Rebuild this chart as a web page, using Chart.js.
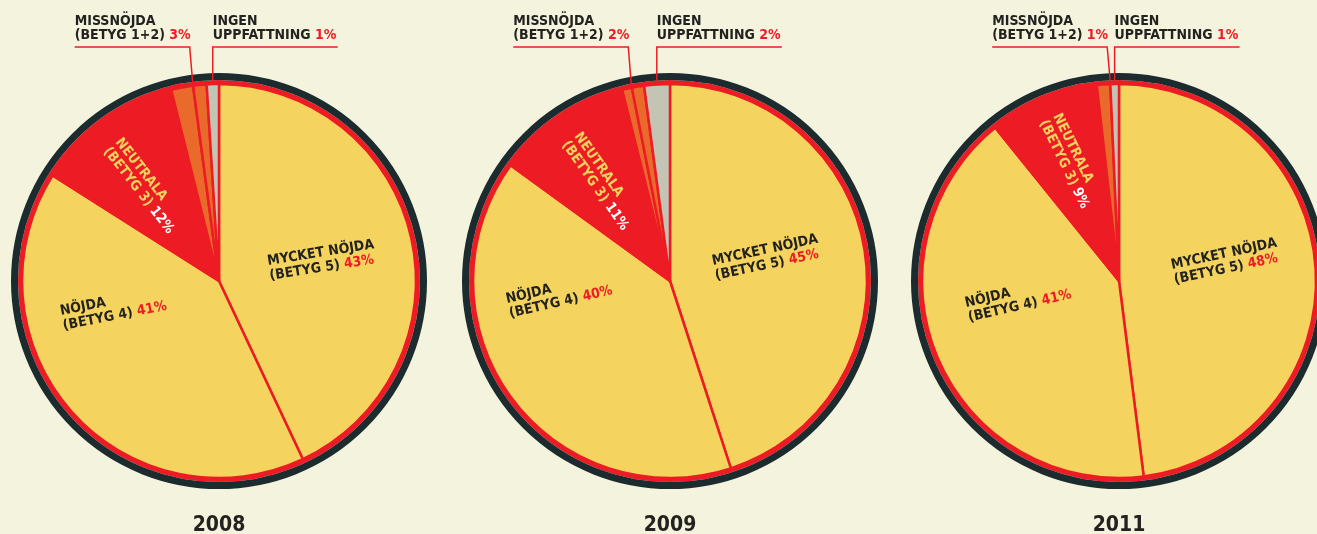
<!DOCTYPE html>
<html>
<head>
<meta charset="utf-8">
<script src="https://cdn.jsdelivr.net/npm/chart.js@4.4.0/dist/chart.umd.min.js"></script>
<style>
  html, body { margin: 0; padding: 0; background: #f4f3de; width: 1317px; height: 534px; overflow: hidden; }
  canvas { position: absolute; top: 0; }
</style>
</head>
<body>
<canvas id="pie2008" width="460" height="534" style="left:-11px"></canvas>
<canvas id="pie2009" width="460" height="534" style="left:440px"></canvas>
<canvas id="pie2011" width="460" height="534" style="left:889px"></canvas>
<script>
// slice shares (clockwise from 12 o'clock)
const years = ['2008', '2009', '2011'];
const values2008 = [43, 41, 12.1, 1.8, 1.1, 1.0];
const values2009 = [45, 40, 11.1, 0.8, 1.0, 2.1];
const values2011 = [48, 41.2, 9.0, 1.1, 0.7];
// rounded figures printed in the labels
const shown2008 = [43, 41, 12, 3, 1];
const shown2009 = [45, 40, 11, 2, 2];
const shown2011 = [48, 41, 9, 1, 1];
const labelTop = ['MYCKET NÖJDA', 'NÖJDA', 'NEUTRALA', 'MISSNÖJDA', 'INGEN'];
const labelBottom = ['(BETYG 5)', '(BETYG 4)', '(BETYG 3)', '(BETYG 1+2)', 'UPPFATTNING'];

const YELLOW = '#f4d35f';
const RED = '#ed1c24';
const ORANGE = '#ea6a2b';
const GRAY = '#c3c4b4';
const DARK = '#1b2b2e';
const INK = '#23221f';
const FONT = "'DejaVu Sans Condensed', 'DejaVu Sans', sans-serif";

const colors2008 = [YELLOW, YELLOW, RED, ORANGE, ORANGE, GRAY];
const colors2009 = [YELLOW, YELLOW, RED, ORANGE, ORANGE, GRAY];
const colors2011 = [YELLOW, YELLOW, RED, ORANGE, GRAY];

// where the labels inside each pie sit: offset from centre (px) and rotation (deg)
const place2008 = { mycket: [49, -16, -9], nojda: [-158, 34, -11], neutral: [-104, -139, 52] };
const place2009 = { mycket: [43, -16, -12], nojda: [-163, 22, -13], neutral: [-96, -145, 55] };
const place2011 = { mycket: [53, -12, -12], nojda: [-153, 26, -13], neutral: [-66, -165, 64] };

// write "(BETYG x) NN%" with the percentage in another colour
function twoTone(ctx, text, pct, x, y, ink, pctColor) {
  ctx.fillStyle = ink;
  ctx.fillText(text + ' ', x, y);
  const w = ctx.measureText(text + ' ').width;
  ctx.fillStyle = pctColor;
  ctx.fillText(pct + '%', x + w, y);
}

function innerLabel(ctx, cx, cy, p, idx, shown, ink, ink2, pctColor) {
  ctx.save();
  ctx.translate(cx + p[0], cy + p[1]);
  ctx.rotate(p[2] * Math.PI / 180);
  ctx.fillStyle = ink;
  ctx.fillText(labelTop[idx], 0, 0);
  twoTone(ctx, labelBottom[idx], shown[idx], 0, 15, ink2, pctColor);
  ctx.restore();
}

const pieDecor = {
  id: 'pieDecor',
  afterDatasetsDraw(chart, args, opts) {
    const ctx = chart.ctx;
    const arcs = chart.getDatasetMeta(0).data;
    const cx = arcs[0].x;
    const cy = arcs[0].y;
    const r = arcs[0].outerRadius;

    // red ring, then dark rim
    ctx.save();
    ctx.lineWidth = 4;
    ctx.strokeStyle = RED;
    ctx.beginPath();
    ctx.arc(cx, cy, r + 2, 0, Math.PI * 2);
    ctx.stroke();
    ctx.lineWidth = 7;
    ctx.strokeStyle = DARK;
    ctx.beginPath();
    ctx.arc(cx, cy, r + 7.5, 0, Math.PI * 2);
    ctx.stroke();

    ctx.font = 'bold 14px ' + FONT;
    ctx.textBaseline = 'alphabetic';
    ctx.textAlign = 'left';
    innerLabel(ctx, cx, cy, opts.place.mycket, 0, opts.shown, INK, INK, RED);
    innerLabel(ctx, cx, cy, opts.place.nojda, 1, opts.shown, INK, INK, RED);
    innerLabel(ctx, cx, cy, opts.place.neutral, 2, opts.shown, YELLOW, YELLOW, '#ffffff');

    // leader lines to the thin slices
    const rr = r + 3;
    const ruleY = 47;
    const miss = arcs[3];
    const mx = cx + rr * Math.cos(miss.endAngle);
    const my = cy + rr * Math.sin(miss.endAngle);
    const last = arcs[arcs.length - 1];
    const mid = (last.startAngle + last.endAngle) / 2;
    const gx = cx + rr * Math.cos(mid);
    const gy = cy - Math.sqrt(rr * rr - (gx - cx) * (gx - cx));

    ctx.strokeStyle = RED;
    ctx.lineWidth = 1.5;
    ctx.beginPath();
    ctx.moveTo(mx - 118, ruleY);
    ctx.lineTo(mx - 3, ruleY);
    ctx.lineTo(mx, my);
    ctx.moveTo(gx + 125, ruleY);
    ctx.lineTo(gx, ruleY);
    ctx.lineTo(gx, gy);
    ctx.stroke();

    ctx.fillStyle = INK;
    ctx.fillText(labelTop[3], mx - 118, 25);
    twoTone(ctx, labelBottom[3], opts.shown[3], mx - 118, 39, INK, RED);
    ctx.fillStyle = INK;
    ctx.fillText(labelTop[4], gx, 25);
    twoTone(ctx, labelBottom[4], opts.shown[4], gx, 39, INK, RED);

    // year under the pie
    ctx.font = 'bold 21px ' + FONT;
    ctx.textAlign = 'center';
    ctx.fillStyle = INK;
    ctx.fillText(opts.year, cx, 531);
    ctx.restore();
  }
};

function pieChart(id, data, colors, year, shown, place) {
  const ctx = document.getElementById(id).getContext('2d');
  return new Chart(ctx, {
    type: 'pie',
    data: {
      labels: labelTop.slice(0, data.length),
      datasets: [{
        data: data,
        backgroundColor: colors,
        borderColor: RED,
        borderWidth: 2.5
      }]
    },
    options: {
      responsive: false,
      animation: false,
      radius: 197,
      layout: { padding: { top: 70, bottom: 42, left: 0, right: 0 } },
      plugins: {
        legend: { display: false },
        tooltip: { enabled: false },
        pieDecor: { year: year, shown: shown, place: place }
      }
    },
    plugins: [pieDecor]
  });
}

pieChart('pie2008', values2008, colors2008, years[0], shown2008, place2008);
pieChart('pie2009', values2009, colors2009, years[1], shown2009, place2009);
pieChart('pie2011', values2011, colors2011, years[2], shown2011, place2011);
</script>
</body>
</html>
